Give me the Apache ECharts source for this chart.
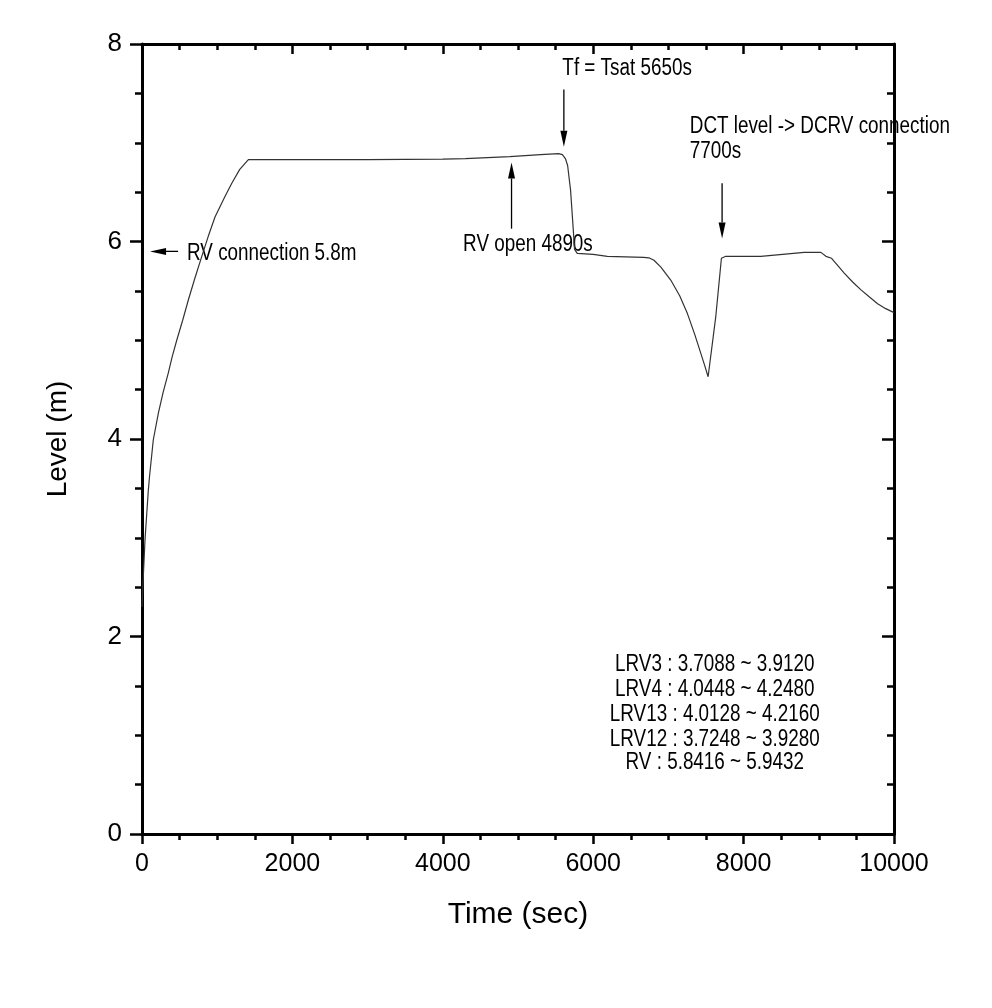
<!DOCTYPE html>
<html>
<head>
<meta charset="utf-8">
<script src="https://cdn.jsdelivr.net/npm/echarts@6/dist/echarts.min.js"></script>
<style>
  html, body { margin: 0; padding: 0; background: #ffffff; }
  #chart { width: 992px; height: 1008px; }
</style>
</head>
<body>
<div id="chart"></div>
<script>
// ---- Data ----
var timeSec = [0, 20, 40, 84, 100, 150, 217, 280, 350, 400, 462, 540, 617, 700, 795, 880, 972, 1100, 1194, 1300, 1415, 2000, 3000, 4000, 4300, 4890, 5300, 5540, 5590, 5630, 5660, 5699, 5735, 5752, 5788, 6000, 6188, 6671, 6740, 6808, 6900, 7031, 7150, 7253, 7350, 7430, 7480, 7528, 7630, 7705, 7763, 8229, 8806, 9028, 9095, 9170, 9338, 9450, 9561, 9670, 9782, 9890, 10000];
var levelM = [2.3, 2.65, 2.98, 3.48, 3.62, 3.99, 4.26, 4.47, 4.67, 4.83, 5.0, 5.2, 5.41, 5.62, 5.85, 6.05, 6.25, 6.45, 6.59, 6.73, 6.83, 6.83, 6.83, 6.835, 6.84, 6.86, 6.88, 6.89, 6.88, 6.84, 6.77, 6.52, 6.12, 5.92, 5.88, 5.87, 5.85, 5.84, 5.835, 5.81, 5.74, 5.61, 5.45, 5.27, 5.06, 4.87, 4.75, 4.63, 5.24, 5.83, 5.85, 5.85, 5.89, 5.89, 5.85, 5.83, 5.68, 5.59, 5.51, 5.44, 5.37, 5.32, 5.28];

var xTicks = [0, 2000, 4000, 6000, 8000, 10000];
var yTicks = [0, 2, 4, 6, 8];

// Annotation arrows: tail (t, v) -> tip (t, v)
var arrowTailT = [480, 5610, 4914, 7714];
var arrowTailV = [5.90, 7.54, 6.13, 6.59];
var arrowTipT  = [107, 5610, 4914, 7714];
var arrowTipV  = [5.90, 6.96, 6.80, 6.03];

// Annotation texts (left-aligned, anchored at left-middle)
var noteText = ["RV connection 5.8m", "Tf = Tsat 5650s", "RV open 4890s", "DCT level -> DCRV connection", "7700s"];
var noteT = [599, 5590, 4270, 7284, 7284];
var noteV = [5.88, 7.75, 5.97, 7.16, 6.91];

// Range table (centered)
var rangeText = ["LRV3 : 3.7088 ~ 3.9120", "LRV4 : 4.0448 ~ 4.2480", "LRV13 : 4.0128 ~ 4.2160", "LRV12 : 3.7248 ~ 3.9280", "RV : 5.8416 ~ 5.9432"];
var rangeT = [7617, 7617, 7617, 7617, 7617];
var rangeV = [1.71, 1.46, 1.21, 0.955, 0.72];

var FONT = "'Liberation Sans', Arial, sans-serif";

var chart = echarts.init(document.getElementById('chart'), null, { renderer: 'canvas' });

var lineData = timeSec.map(function (t, i) { return [t, levelM[i]]; });
var arrowData = arrowTailT.map(function (t, i) { return [t, arrowTailV[i], arrowTipT[i], arrowTipV[i]]; });
var noteData = noteT.map(function (t, i) { return [t, noteV[i], i]; });
var rangeData = rangeT.map(function (t, i) { return [t, rangeV[i], i]; });

function plainLabel(v) { return String(v); }

function axisCommon() {
  return {
    type: 'value', min: xTicks[0], max: xTicks[xTicks.length - 1], interval: xTicks[1] - xTicks[0],
    splitLine: { show: false },
    axisLine: { show: true, onZero: false, lineStyle: { color: '#000', width: 3 } }
  };
}

var option = {
  backgroundColor: '#ffffff',
  animation: false,
  grid: { left: 142, right: 98, top: 44, bottom: 174, containLabel: false },
  xAxis: [
    Object.assign(axisCommon(), {
      position: 'bottom',
      name: 'Time (sec)', nameLocation: 'middle', nameGap: 66,
      nameTextStyle: { fontFamily: FONT, fontSize: 30, color: '#000' },
      axisTick: { show: true, inside: false, length: 10, lineStyle: { color: '#000', width: 2.5 } },
      minorTick: { show: true, splitNumber: 4, length: 6, lineStyle: { color: '#000', width: 2.5 } },
      axisLabel: { show: true, fontFamily: FONT, fontSize: 25, color: '#000', margin: 18, formatter: plainLabel }
    }),
    Object.assign(axisCommon(), {
      position: 'top',
      axisTick: { show: true, inside: true, length: 10, lineStyle: { color: '#000', width: 2.5 } },
      minorTick: { show: true, splitNumber: 4, length: 6, lineStyle: { color: '#000', width: 2.5 } },
      axisLabel: { show: false }
    })
  ],
  yAxis: [
    {
      type: 'value', min: yTicks[0], max: yTicks[yTicks.length - 1], interval: yTicks[1] - yTicks[0], position: 'left',
      splitLine: { show: false },
      name: 'Level (m)', nameLocation: 'middle', nameGap: 70, nameRotate: 90,
      nameTextStyle: { fontFamily: FONT, fontSize: 28, color: '#000' },
      axisLine: { show: true, onZero: false, lineStyle: { color: '#000', width: 3 } },
      axisTick: { show: true, inside: false, length: 12, lineStyle: { color: '#000', width: 2.5 } },
      minorTick: { show: true, splitNumber: 4, length: 7, lineStyle: { color: '#000', width: 2.5 } },
      axisLabel: { show: true, fontFamily: FONT, fontSize: 26, color: '#000', margin: 20, formatter: plainLabel }
    },
    {
      type: 'value', min: yTicks[0], max: yTicks[yTicks.length - 1], interval: yTicks[1] - yTicks[0], position: 'right',
      splitLine: { show: false },
      axisLine: { show: true, onZero: false, lineStyle: { color: '#000', width: 3 } },
      axisTick: { show: true, inside: true, length: 12, lineStyle: { color: '#000', width: 2.5 } },
      minorTick: { show: true, splitNumber: 4, length: 7, lineStyle: { color: '#000', width: 2.5 } },
      axisLabel: { show: false }
    }
  ],
  series: [
    {
      type: 'line', xAxisIndex: 0, yAxisIndex: 0,
      data: lineData, showSymbol: false, symbol: 'none', smooth: false,
      lineStyle: { color: '#333', width: 1.2 }
    },
    {
      type: 'custom', xAxisIndex: 0, yAxisIndex: 0, clip: false,
      data: arrowData,
      renderItem: function (params, api) {
        var a = api.coord([api.value(0), api.value(1)]);
        var b = api.coord([api.value(2), api.value(3)]);
        var dx = b[0] - a[0], dy = b[1] - a[1];
        var len = Math.sqrt(dx * dx + dy * dy);
        var ux = dx / len, uy = dy / len;
        var headLen = 16, headHalf = 3.5;
        var bx = b[0] - ux * headLen, by = b[1] - uy * headLen;
        var px = -uy, py = ux;
        return {
          type: 'group',
          children: [
            { type: 'line', shape: { x1: a[0], y1: a[1], x2: bx, y2: by }, style: { stroke: '#000', lineWidth: 1.3 } },
            { type: 'polygon', shape: { points: [[b[0], b[1]], [bx + px * headHalf, by + py * headHalf], [bx - px * headHalf, by - py * headHalf]] }, style: { fill: '#000' } }
          ]
        };
      }
    },
    {
      type: 'custom', xAxisIndex: 0, yAxisIndex: 0, clip: false,
      data: noteData,
      renderItem: function (params, api) {
        var p = api.coord([api.value(0), api.value(1)]);
        return {
          type: 'text', x: p[0], y: p[1], scaleX: 0.82,
          style: { text: noteText[api.value(2)], font: '23px ' + FONT, fill: '#000', align: 'left', verticalAlign: 'middle' }
        };
      }
    },
    {
      type: 'custom', xAxisIndex: 0, yAxisIndex: 0, clip: false,
      data: rangeData,
      renderItem: function (params, api) {
        var p = api.coord([api.value(0), api.value(1)]);
        return {
          type: 'text', x: p[0], y: p[1], scaleX: 0.82,
          style: { text: rangeText[api.value(2)], font: '23px ' + FONT, fill: '#000', align: 'center', verticalAlign: 'middle' }
        };
      }
    }
  ]
};

chart.setOption(option);
</script>
</body>
</html>
